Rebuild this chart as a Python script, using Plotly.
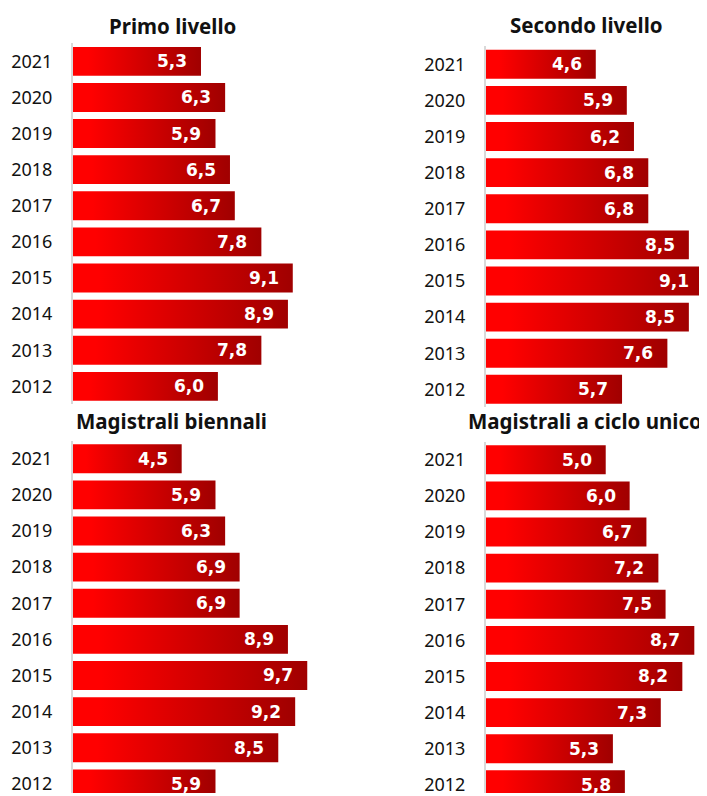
import plotly.graph_objects as go

years = [2021, 2020, 2019, 2018, 2017, 2016, 2015, 2014, 2013, 2012]
primo_livello = [5.3, 6.3, 5.9, 6.5, 6.7, 7.8, 9.1, 8.9, 7.8, 6.0]
secondo_livello = [4.6, 5.9, 6.2, 6.8, 6.8, 8.5, 9.1, 8.5, 7.6, 5.7]
magistrali_biennali = [4.5, 5.9, 6.3, 6.9, 6.9, 8.9, 9.7, 9.2, 8.5, 5.9]
magistrali_ciclo_unico = [5.0, 6.0, 6.7, 7.2, 7.5, 8.7, 8.2, 7.3, 5.3, 5.8]
titles = ["Primo livello", "Secondo livello", "Magistrali biennali", "Magistrali a ciclo unico"]
series = [primo_livello, secondo_livello, magistrali_biennali, magistrali_ciclo_unico]

OFF = 8  # page body margin
W, H = 707 - OFF, 796 - OFF
FONT = "Noto Sans"


def px(x):
    return (x - OFF) / W


def py(y):
    return 1 - (y - OFF) / H


# panel geometry in window pixels
panels = [
    dict(x0=73, x1=314.5, xmax=10.0, ytop=43.4, ybot=405.9, yr=(2011.5, 2021.5), tx=172, ty=26),
    dict(x0=486, x1=707, xmax=9.26, ytop=46.4, ybot=408.9, yr=(2011.5, 2021.5), tx=586, ty=25),
    dict(x0=73, x1=314.5, xmax=10.0, ytop=442.4, ybot=796, yr=(2011.746, 2021.5), tx=171, ty=423),
    dict(x0=486, x1=707, xmax=9.23, ytop=443.4, ybot=796, yr=(2011.773, 2021.5), tx=585, ty=423),
]

gradient = dict(type="horizontal",
                colorscale=[[0, "#ff0000"], [0.12, "#ff0000"], [1, "#a00000"]])

fig = go.Figure()
annotations = []
half = 0.4

for i, (p, vals, title) in enumerate(zip(panels, series, titles)):
    n = "" if i == 0 else str(i + 1)
    xa, ya = "x" + n, "y" + n
    for yr, v in zip(years, vals):
        fig.add_trace(go.Scatter(
            x=[0, v, v, 0, 0],
            y=[yr - half, yr - half, yr + half, yr + half, yr - half],
            mode="none", fill="toself", fillgradient=gradient,
            hoverinfo="skip", showlegend=False, xaxis=xa, yaxis=ya))
        annotations.append(dict(
            x=v, y=yr, xref=xa, yref=ya, xanchor="right", yanchor="middle",
            xshift=-12, showarrow=False,
            text=f"{v:.1f}".replace(".", ","),
            font=dict(family="DejaVu Sans", size=17, color="white", weight="bold")))
    annotations.append(dict(
        x=px(p["tx"]), y=py(p["ty"]), xref="paper", yref="paper",
        xanchor="center", yanchor="middle", showarrow=False, text=title,
        font=dict(family=FONT, size=20.5, color="#111111", weight="bold")))
    fig.layout["xaxis" + n] = dict(
        domain=[px(p["x0"]), min(1, px(p["x1"]))], range=[0, p["xmax"]],
        anchor=ya, showgrid=False, zeroline=False, showticklabels=False,
        showline=False, fixedrange=True)
    fig.layout["yaxis" + n] = dict(
        domain=[max(0, py(p["ybot"])), py(p["ytop"])], range=list(p["yr"]),
        anchor=xa, tickvals=years, ticktext=[str(y) for y in years],
        showgrid=False, zeroline=False, showline=True, linecolor="#d9d9d9",
        linewidth=2, ticks="", ticklabelstandoff=15, ticklabeloverflow="allow",
        tickfont=dict(family=FONT, size=18, color="#111111"), fixedrange=True)

fig.update_layout(width=W, height=H, margin=dict(l=0, r=0, t=0, b=0),
                  paper_bgcolor="white", plot_bgcolor="white",
                  annotations=annotations, showlegend=False)

fig.write_html("out.html")
